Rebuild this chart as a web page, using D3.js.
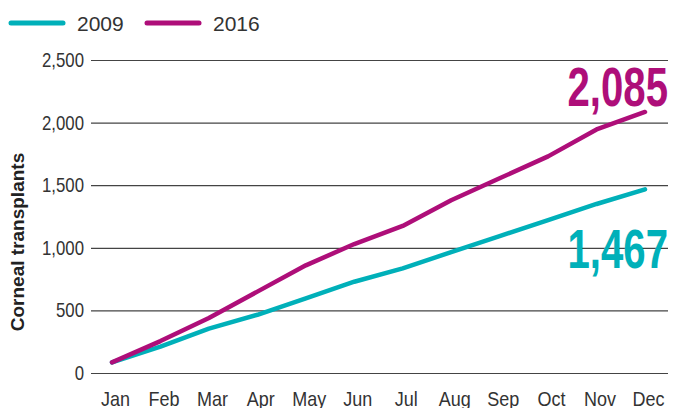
<!DOCTYPE html>
<html lang="en">
	<head>
		<meta charset="UTF-8" />
		<script src="https://cdnjs.cloudflare.com/ajax/libs/d3/7.8.5/d3.min.js"></script>
		<title>Corneal transplants</title>
		<style>
			body { margin: 0; background: #fff; }
			svg { display: block; font-family: 'Liberation Sans', sans-serif; }
		</style>
	</head>
	<body>
		<div class="chart"></div>

		<script>
			// data
			const months = ['Jan', 'Feb', 'Mar', 'Apr', 'May', 'Jun', 'Jul', 'Aug', 'Sep', 'Oct', 'Nov', 'Dec']
			const values2009 = [85, 210, 355, 465, 597, 729, 836, 965, 1093, 1221, 1350, 1467]
			const values2016 = [85, 255, 440, 650, 860, 1030, 1175, 1380, 1555, 1730, 1945, 2085]
			const yTicks = [0, 500, 1000, 1500, 2000, 2500]

			const teal = '#00b0b9'
			const magenta = '#ae0e79'

			const width = 673
			const height = 408

			const svg = d3
				.select('.chart')
				.append('svg')
				.attr('width', width)
				.attr('height', height)

			const x = d3.scalePoint().domain(months).range([112, 645])
			const y = d3.scaleLinear().domain([0, 2500]).range([373, 60])

			// grid + y labels (squeezed a bit, the original font is narrow)
			const yAxis = d3.axisLeft(y).tickValues(yTicks).tickSize(-577).tickPadding(0).tickFormat(d3.format(','))
			const gy = svg.append('g').attr('transform', 'translate(91,0)').call(yAxis)
			gy.select('.domain').remove()
			gy.selectAll('line').attr('stroke', '#444').attr('stroke-width', 1.2)
			gy.selectAll('text')
				.attr('x', 0)
				.attr('transform', 'translate(-7,0) scale(0.84,1)')
				.attr('fill', '#333')
				.style('font-size', '20px')

			// x labels
			const xAxis = d3.axisBottom(x).tickSize(0).tickPadding(0)
			const gx = svg.append('g').attr('transform', 'translate(3,392)').call(xAxis)
			gx.select('.domain').remove()
			gx.selectAll('text')
				.attr('fill', '#333')
				.attr('dy', '0.71em')
				.attr('transform', 'scale(0.9,1)')
				.style('font-size', '20px')

			// y axis title
			svg.append('text')
				.attr('transform', 'translate(24,242) rotate(-90)')
				.attr('text-anchor', 'middle')
				.attr('fill', '#222')
				.style('font-weight', 'bold')
				.style('font-size', '19px')
				.text('Corneal transplants')

			// lines
			const line = d3.line().x((d, i) => x(months[i])).y(d => y(d))

			const series = [
				{ name: '2009', values: values2009, color: teal },
				{ name: '2016', values: values2016, color: magenta }
			]

			svg.selectAll('.series')
				.data(series)
				.join('path')
				.attr('class', 'series')
				.attr('d', d => line(d.values))
				.attr('fill', 'none')
				.attr('stroke', d => d.color)
				.attr('stroke-width', 4.5)
				.attr('stroke-linecap', 'round')
				.attr('stroke-linejoin', 'round')

			// end value labels, compressed horizontally
			const endLabels = [
				{ text: d3.format(',')(values2016[11]), color: magenta, y: 106 },
				{ text: d3.format(',')(values2009[11]), color: teal, y: 268 }
			]
			svg.selectAll('.endLabel')
				.data(endLabels)
				.join('text')
				.attr('class', 'endLabel')
				.attr('transform', d => `translate(668,${d.y}) scale(0.73,1)`)
				.attr('text-anchor', 'end')
				.attr('fill', d => d.color)
				.style('font-weight', 'bold')
				.style('font-size', '55px')
				.text(d => d.text)

			// legend
			const legend = svg.selectAll('.legend')
				.data(series)
				.join('g')
				.attr('class', 'legend')
				.attr('transform', (d, i) => `translate(${11 + i * 136},23)`)
			legend.append('line')
				.attr('x1', 0)
				.attr('x2', 52)
				.attr('stroke', d => d.color)
				.attr('stroke-width', 5)
				.attr('stroke-linecap', 'round')
			legend.append('text')
				.attr('x', 66)
				.attr('y', 8)
				.attr('fill', '#333')
				.style('font-size', '21px')
				.text(d => d.name)
		</script>
</body>
</html>
